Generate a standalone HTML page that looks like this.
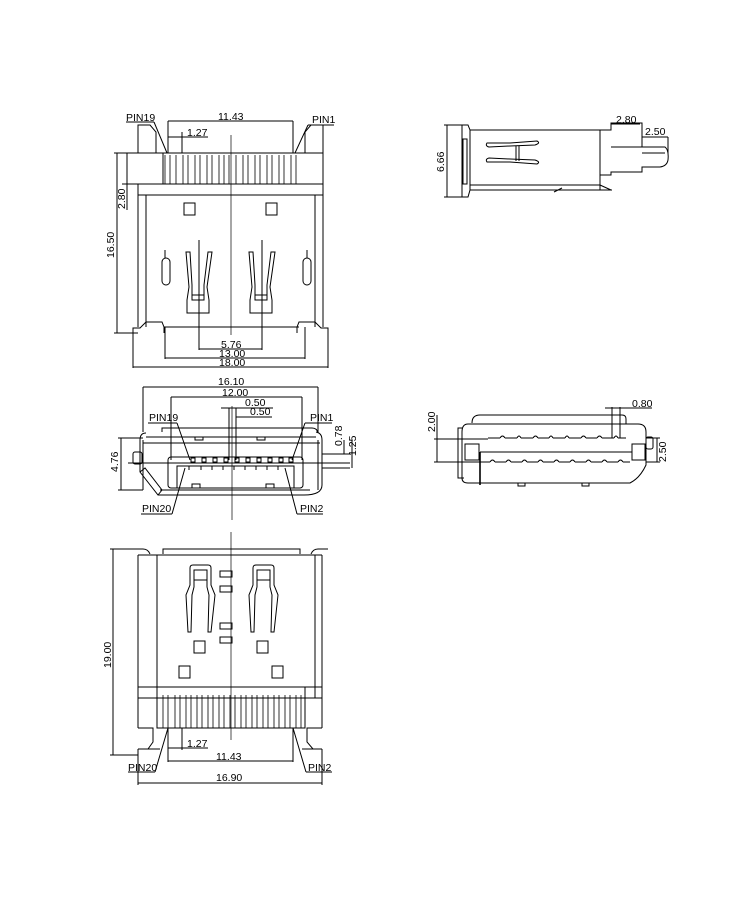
<!DOCTYPE html>
<html><head><style>html,body{margin:0;padding:0;background:#fff}svg{display:block}text{font-family:"Liberation Sans",sans-serif;font-size:10.5px;fill:#000}</style></head>
<body>
<svg width="750" height="900" viewBox="0 0 750 900" fill="none" stroke="#000" stroke-width="1">
<!-- ===== TOP VIEW ===== -->
<g>
<text x="126" y="121" stroke="none">PIN19</text>
<text x="312" y="123" stroke="none">PIN1</text>
<text x="218" y="120" stroke="none">11.43</text>
<line x1="168" y1="121" x2="293" y2="121"/>
<line x1="168" y1="121" x2="168" y2="153"/><line x1="293" y1="121" x2="293" y2="153"/>
<text x="187" y="136" stroke="none">1.27</text>
<line x1="168" y1="137" x2="208" y2="137"/><line x1="182" y1="132" x2="182" y2="153"/>
<line x1="126" y1="122" x2="154" y2="122"/><line x1="154" y1="122" x2="167" y2="153"/>
<line x1="308" y1="125" x2="334" y2="125"/><line x1="308" y1="125" x2="295" y2="153"/>
<path d="M138 153 V125 H150 L156 132 V153"/>
<path d="M323 153 V125 H311 L305 132 V153"/>
<rect x="163" y="153" width="160" height="31"/>
<line x1="122" y1="153" x2="163" y2="153"/>
<g stroke-width="0.8">
<path d="M165 184V155M170 184V155M176 184V155M183 184V155M188 184V155M195 184V155M200 184V155M207 184V155M212 184V155M219 184V155M224 184V155M229 184V155M236 184V155M243 184V155M248 184V155M255 184V155M260 184V155M267 184V155M272 184V155M279 184V155M284 184V155M291 184V155M296 184V155"/>
</g>
<line x1="122" y1="184" x2="323" y2="184"/>
<line x1="138" y1="195" x2="323" y2="195"/>
<line x1="138" y1="184" x2="138" y2="327"/>
<line x1="146" y1="195" x2="146" y2="327"/>
<line x1="323" y1="184" x2="323" y2="327"/>
<line x1="315" y1="195" x2="315" y2="327"/>
<path d="M133 333 V328 H140 L146 322 H162 L164 327 H297 L299 322 H315 L321 328 H328 V333"/>
<line x1="164" y1="327" x2="299" y2="327"/>
<line x1="164" y1="327" x2="164" y2="333"/><line x1="297" y1="327" x2="297" y2="333"/>
<rect x="184" y="203" width="11" height="12"/>
<rect x="266" y="203" width="11" height="12"/>
<rect x="162" y="258" width="8" height="27" rx="4"/>
<rect x="303" y="258" width="8" height="27" rx="4"/>
<path d="M186 252 L189 287 L187 300 V313 H209 V300 L207 287 L212 252 L208 252 L204 285 V300 H192 V285 L190 252 Z"/>
<path d="M249 252 L252 287 L250 300 V313 H272 V300 L270 287 L275 252 L271 252 L267 285 V300 H255 V285 L253 252 Z"/>
<line x1="192" y1="295" x2="204" y2="295"/><line x1="255" y1="295" x2="267" y2="295"/>
<line x1="231" y1="135" x2="231" y2="335" stroke-width="0.7"/>
<line x1="199" y1="240" x2="199" y2="350"/><line x1="262" y1="240" x2="262" y2="350"/>
<line x1="165" y1="250" x2="165" y2="258"/><line x1="307" y1="250" x2="307" y2="258"/>
<line x1="199" y1="349" x2="262" y2="349"/><text x="221" y="348" stroke="none">5.76</text>
<line x1="165" y1="327" x2="165" y2="359"/><line x1="305" y1="327" x2="305" y2="359"/>
<line x1="165" y1="358" x2="305" y2="358"/><text x="219" y="357" stroke="none">13.00</text>
<line x1="133" y1="333" x2="133" y2="368"/><line x1="328" y1="333" x2="328" y2="368"/>
<line x1="133" y1="367" x2="328" y2="367"/><text x="219" y="366" stroke="none">18.00</text>
<line x1="114" y1="153" x2="138" y2="153"/><line x1="114" y1="333" x2="138" y2="333"/>
<line x1="117" y1="153" x2="117" y2="333"/>
<text transform="translate(114 258) rotate(-90)" stroke="none">16.50</text>
<line x1="127" y1="153" x2="127" y2="210"/>
<text transform="translate(125 209) rotate(-90)" stroke="none">2.80</text>
</g>

<!-- ===== FRONT VIEW ===== -->
<g>
<text x="218" y="385" stroke="none">16.10</text>
<line x1="143" y1="387" x2="318" y2="387"/>
<line x1="143" y1="387" x2="143" y2="432"/><line x1="318" y1="387" x2="318" y2="432"/>
<text x="222" y="396" stroke="none">12.00</text>
<line x1="171" y1="397" x2="302" y2="397"/>
<line x1="171" y1="397" x2="171" y2="460"/><line x1="302" y1="397" x2="302" y2="460"/>
<text x="245" y="406" stroke="none">0.50</text>
<line x1="221" y1="408" x2="273" y2="408"/>
<text x="250" y="415" stroke="none">0.50</text>
<line x1="236" y1="417" x2="272" y2="417"/>
<line x1="229" y1="408" x2="229" y2="460"/><line x1="236" y1="408" x2="236" y2="460"/>
<line x1="232" y1="406" x2="232" y2="520" stroke-width="0.7"/>
<text x="149" y="421" stroke="none">PIN19</text>
<line x1="148" y1="423" x2="177" y2="423"/><line x1="177" y1="423" x2="190" y2="460"/>
<text x="310" y="421" stroke="none">PIN1</text>
<line x1="305" y1="423" x2="332" y2="423"/><line x1="305" y1="423" x2="292" y2="460"/>
<path d="M146 433 Q140 433 140 440 V472 L158 495 H304 Q322 495 322 485 V440 Q322 433 316 432"/>
<path d="M162 432 V428 H312 Q317 428 318 433"/>
<line x1="146" y1="437" x2="316" y2="437"/>
<line x1="143" y1="443" x2="320" y2="443"/>
<line x1="143" y1="440" x2="143" y2="490"/>
<line x1="318" y1="440" x2="318" y2="490"/>
<rect x="133" y="452" width="9" height="12" rx="2"/>
<path d="M140 472 L145 468 L162 490 L158 495"/>
<rect x="168" y="457" width="135" height="31" rx="3"/>
<path d="M177 488 V466 H294 V488"/>
<line x1="160" y1="490" x2="310" y2="490"/>
<rect x="195" y="437" width="8" height="3"/><rect x="257" y="437" width="8" height="3"/>
<rect x="192" y="484" width="8" height="4"/><rect x="266" y="484" width="8" height="4"/>
<g stroke-width="1">
<rect x="191" y="458" width="4" height="4"/><rect x="202" y="458" width="4" height="4"/><rect x="213" y="458" width="4" height="4"/><rect x="224" y="458" width="4" height="4"/><rect x="235" y="458" width="4" height="4"/><rect x="246" y="458" width="4" height="4"/><rect x="257" y="458" width="4" height="4"/><rect x="268" y="458" width="4" height="4"/><rect x="279" y="458" width="4" height="4"/><rect x="289" y="458" width="4" height="4"/>
<path d="M186 466h6M198 466h6M209 466h6M220 466h6M231 466h6M242 466h6M253 466h6M264 466h6M275 466h6M286 466h6"/>
<path d="M189 466v4M201 466v4M212 466v4M223 466v4M234 466v4M245 466v4M256 466v4M267 466v4M278 466v4"/>
</g>
<line x1="128" y1="463" x2="350" y2="463"/>
<text x="142" y="512" stroke="none">PIN20</text>
<line x1="141" y1="514" x2="172" y2="514"/><line x1="172" y1="514" x2="185" y2="468"/>
<text x="300" y="512" stroke="none">PIN2</text>
<line x1="297" y1="514" x2="323" y2="514"/><line x1="297" y1="514" x2="285" y2="468"/>
<line x1="118" y1="438" x2="143" y2="438"/><line x1="118" y1="490" x2="143" y2="490"/>
<line x1="121" y1="438" x2="121" y2="490"/>
<text transform="translate(118 472) rotate(-90)" stroke="none">4.76</text>
<line x1="322" y1="454" x2="350" y2="454"/><line x1="322" y1="468" x2="350" y2="468"/>
<line x1="344" y1="440" x2="344" y2="454"/><line x1="352" y1="440" x2="352" y2="468"/>
<text transform="translate(342 446) rotate(-90)" stroke="none">0.78</text>
<text transform="translate(356 456) rotate(-90)" stroke="none">1.25</text>
</g>

<!-- ===== BOTTOM VIEW ===== -->
<g>
<line x1="231" y1="532" x2="231" y2="740" stroke-width="0.7"/>
<path d="M133 549 H143 Q148 549 150 554"/>
<path d="M328 549 H318 Q313 549 311 554"/>
<path d="M163 554 V549 H300 V554"/>
<line x1="138" y1="555" x2="322" y2="555"/>
<line x1="138" y1="555" x2="138" y2="728"/><line x1="322" y1="555" x2="322" y2="728"/>
<line x1="157" y1="555" x2="157" y2="687"/><line x1="315" y1="555" x2="315" y2="698"/>
<line x1="138" y1="687" x2="322" y2="687"/>
<line x1="138" y1="698" x2="322" y2="698"/>
<rect x="157" y="687" width="148" height="41"/>
<g stroke-width="0.8">
<path d="M163 728V695M168 728V695M175 728V695M180 728V695M186 728V695M191 728V695M197 728V695M202 728V695M208 728V695M213 728V695M219 728V695M224 728V695M230 728V695M235 728V695M241 728V695M246 728V695M252 728V695M257 728V695M263 728V695M268 728V695M274 728V695M279 728V695M285 728V695M290 728V695M296 728V695M301 728V695"/>
</g>
<path d="M138 728 H153 V742 L148 749 H140"/>
<path d="M322 728 H307 V742 L313 749 H320"/>
<line x1="138" y1="749" x2="160" y2="749"/><line x1="302" y1="749" x2="322" y2="749"/>
<path d="M188 632 L186 595 L190 585 V568 Q190 565 193 565 H208 Q211 565 211 568 V585 L215 595 L211 632 H208 L209 595 L207 587 V570 H194 V587 L192 595 L191 632 Z"/>
<path d="M251 632 L249 595 L253 585 V568 Q253 565 256 565 H271 Q274 565 274 568 V585 L278 595 L274 632 H271 L272 595 L270 587 V570 H257 V587 L255 595 L254 632 Z"/>
<line x1="194" y1="580" x2="207" y2="580"/><line x1="257" y1="580" x2="270" y2="580"/>
<rect x="220" y="571" width="12" height="6"/><rect x="220" y="586" width="12" height="6"/>
<rect x="220" y="623" width="12" height="6"/><rect x="220" y="637" width="12" height="6"/>
<rect x="194" y="641" width="11" height="12"/><rect x="257" y="641" width="11" height="12"/>
<rect x="179" y="666" width="11" height="12"/><rect x="272" y="666" width="11" height="12"/>
<line x1="110" y1="549" x2="133" y2="549"/><line x1="110" y1="755" x2="138" y2="755"/>
<line x1="113" y1="549" x2="113" y2="755"/>
<text transform="translate(111 668) rotate(-90)" stroke="none">19.00</text>
<line x1="168" y1="728" x2="168" y2="762"/><line x1="182" y1="728" x2="182" y2="750"/><line x1="293" y1="728" x2="293" y2="762"/>
<line x1="168" y1="748" x2="208" y2="748"/><text x="187" y="747" stroke="none">1.27</text>
<line x1="168" y1="761" x2="293" y2="761"/><text x="216" y="760" stroke="none">11.43</text>
<text x="128" y="771" stroke="none">PIN20</text>
<line x1="128" y1="772" x2="155" y2="772"/><line x1="155" y1="772" x2="168" y2="728"/>
<text x="308" y="771" stroke="none">PIN2</text>
<line x1="306" y1="772" x2="332" y2="772"/><line x1="306" y1="772" x2="293" y2="728"/>
<line x1="138" y1="749" x2="138" y2="785"/><line x1="322" y1="749" x2="322" y2="785"/>
<line x1="138" y1="783" x2="322" y2="783"/><text x="216" y="781" stroke="none">16.90</text>
</g>

<!-- ===== SIDE VIEW (top right) ===== -->
<g>
<path d="M462 125 H468 L470 130 V190 L468 197 H462 Z"/>
<rect x="463" y="139" width="4" height="45"/>
<line x1="470" y1="130" x2="600" y2="130"/>
<line x1="470" y1="190" x2="600" y2="190"/>
<line x1="470" y1="185" x2="600" y2="185"/>
<line x1="600" y1="130" x2="600" y2="190"/>
<path d="M600 130 H611 V123 H642 V147 H611"/>
<path d="M642 147 H665 Q669 150 668 160 Q667 166 660 167 H642 V172 H611 V175 H600"/>
<line x1="642" y1="153" x2="665" y2="153"/>
<path d="M600 185 L611 190 M600 190 H612"/>
<path d="M487 143 Q485 146 489 147 L510 146 L535 145 Q541 143 537 141 L510 143 Z"/>
<path d="M487 162 Q485 159 489 158 L510 159 L535 160 Q541 162 537 164 L510 162 Z"/>
<line x1="516" y1="146" x2="516" y2="161"/><line x1="519" y1="146" x2="519" y2="161"/>
<line x1="554" y1="192" x2="562" y2="188"/>
<line x1="444" y1="125" x2="462" y2="125"/><line x1="444" y1="197" x2="462" y2="197"/>
<line x1="447" y1="125" x2="447" y2="197"/>
<text transform="translate(444 172) rotate(-90)" stroke="none">6.66</text>
<line x1="611" y1="124" x2="640" y2="124"/><text x="616" y="123" stroke="none">2.80</text>
<line x1="642" y1="137" x2="668" y2="137"/><text x="645" y="135" stroke="none">2.50</text>
<line x1="668" y1="137" x2="668" y2="153"/>
</g>

<!-- ===== SIDE VIEW (bottom right) ===== -->
<g>
<path d="M472 423 Q472 415 480 415 H622 Q626 415 626 419 V424"/>
<path d="M468 424 Q462 424 462 432 V478 Q462 483 468 483 H630 Q640 478 646 465 V432 Q646 424 638 424 Z"/>
<path d="M462 428 H458 V478 H464"/>
<rect x="646" y="437" width="7" height="12" rx="2"/>
<path d="M488 438 H500 M505 438 H517 M521 438 H533 M538 438 H549 M553 438 H565 M569 438 H581 M586 438 H597 M602 438 H614 M618 438 H626"/>
<path d="M500 438 q2.5 -4 5 0 M517 438 q2 -4 4 0 M533 438 q2.5 -4 5 0 M549 438 q2 -4 4 0 M565 438 q2 -4 4 0 M581 438 q2.5 -4 5 0 M597 438 q2.5 -4 5 0 M614 438 q2 -4 4 0"/>
<rect x="465" y="444" width="14" height="16"/><rect x="632" y="444" width="13" height="16"/>
<line x1="480" y1="452" x2="632" y2="452"/>
<line x1="480" y1="452" x2="480" y2="485" stroke-width="1.6"/>
<path d="M480 462 H490 M495 462 H506 M511 462 H522 M527 462 H538 M543 462 H554 M559 462 H570 M575 462 H586 M591 462 H602 M607 462 H618 M623 462 H630"/>
<path d="M490 462 q2.5 -4 5 0 M506 462 q2.5 -4 5 0 M522 462 q2.5 -4 5 0 M538 462 q2.5 -4 5 0 M554 462 q2.5 -4 5 0 M570 462 q2.5 -4 5 0 M586 462 q2.5 -4 5 0 M602 462 q2.5 -4 5 0 M618 462 q2.5 -4 5 0"/>
<rect x="518" y="483" width="7" height="3"/><rect x="582" y="483" width="7" height="3"/>
<line x1="434" y1="439" x2="488" y2="439"/><line x1="434" y1="462" x2="480" y2="462"/>
<line x1="437" y1="415" x2="437" y2="462"/>
<text transform="translate(435 432) rotate(-90)" stroke="none">2.00</text>
<line x1="612" y1="407" x2="612" y2="438"/><line x1="620" y1="407" x2="620" y2="438"/>
<line x1="605" y1="408" x2="652" y2="408"/><text x="632" y="407" stroke="none">0.80</text>
<line x1="646" y1="438" x2="660" y2="438"/><line x1="646" y1="462" x2="660" y2="462"/>
<line x1="657" y1="438" x2="657" y2="462"/>
<text transform="translate(666 462) rotate(-90)" stroke="none">2.50</text>
</g>
</svg>
</body></html>
